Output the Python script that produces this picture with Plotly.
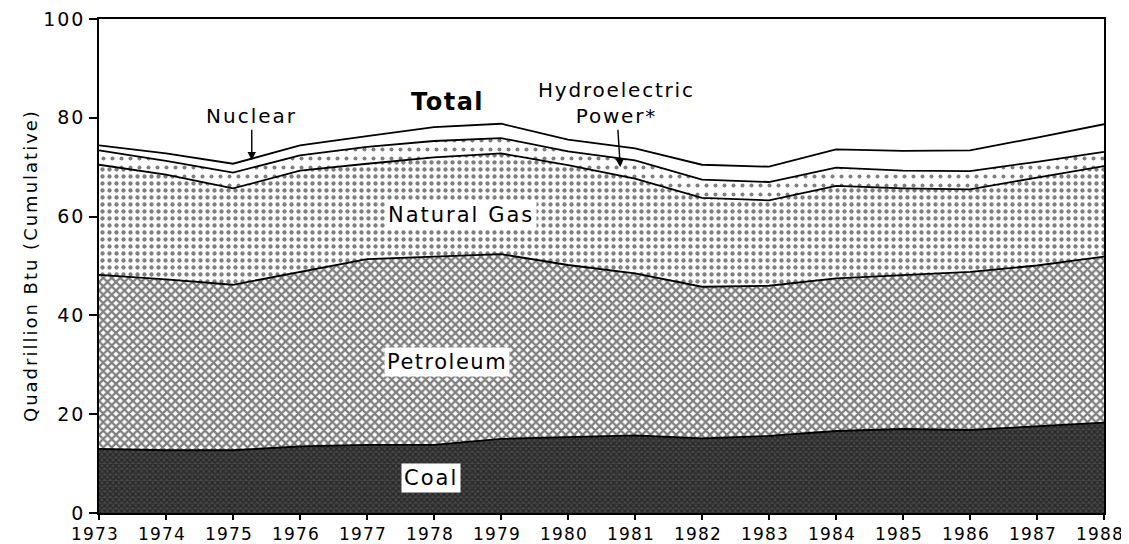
import plotly.graph_objects as go

years = list(range(1973, 1989))
coal = [13.0, 12.7, 12.7, 13.5, 13.8, 13.8, 15.0, 15.3, 15.7, 15.1, 15.6, 16.6, 17.0, 16.8, 17.5, 18.3]
petroleum = [35.2, 34.6, 33.5, 35.3, 37.6, 38.1, 37.4, 34.9, 32.8, 30.7, 30.4, 30.9, 31.2, 32.0, 32.6, 33.6]
natural_gas = [22.3, 21.2, 19.5, 20.5, 19.3, 20.1, 20.4, 20.2, 19.2, 18.0, 17.3, 18.7, 17.5, 16.7, 17.8, 18.3]
hydro = [2.9, 2.8, 3.2, 3.1, 3.4, 3.3, 3.1, 2.8, 3.7, 3.7, 3.7, 3.7, 3.6, 3.7, 3.2, 2.9]
nuclear = [1.0, 1.5, 1.8, 2.0, 2.2, 2.8, 2.9, 2.4, 2.4, 3.0, 3.1, 3.7, 4.0, 4.2, 4.9, 5.6]
y_ticks = [0, 20, 40, 60, 80, 100]

FONT = "DejaVu Sans"


def spaced(text, px):
    return f'<span style="letter-spacing:{px}px">{text}</span>'


series = [
    ("Coal", coal, dict(shape="x", bgcolor="#474747", fgcolor="#050505", size=4, solidity=0.55)),
    ("Petroleum", petroleum, dict(shape="x", bgcolor="white", fgcolor="black", size=6, solidity=0.62)),
    ("Natural Gas", natural_gas, dict(shape=".", bgcolor="white", fgcolor="black", size=7, solidity=0.3)),
    ("Hydroelectric Power", hydro, dict(shape=".", bgcolor="white", fgcolor="black", size=9, solidity=0.16)),
    ("Nuclear", nuclear, dict(shape="", bgcolor="white", fgcolor="white", size=8, solidity=0.0)),
]

fig = go.Figure()
for name, vals, pat in series:
    fig.add_trace(go.Scatter(
        x=years, y=vals, name=name, mode="lines", stackgroup="one",
        line=dict(color="black", width=1.8),
        fillcolor="white", fillpattern=pat,
        showlegend=False, hoverinfo="skip",
    ))

fig.update_layout(
    width=1129, height=536,
    margin=dict(l=91, r=33, t=10.5, b=31),
    paper_bgcolor="white", plot_bgcolor="white",
    font=dict(family=FONT, color="black", size=18),
    xaxis=dict(
        range=[1973, 1988], tickvals=years, ticktext=[spaced(str(y), 1.2) for y in years],
        showgrid=False, zeroline=False, showline=True, linecolor="black", linewidth=1.5,
        mirror=True, ticks="outside", ticklen=5, tickwidth=1.5, tickcolor="black",
        tickfont=dict(family=FONT, size=17), automargin=False, ticklabeloverflow="allow",
        ticklabelshift=-4,
    ),
    yaxis=dict(
        range=[0, 100], tickvals=y_ticks, ticktext=[spaced(str(v), 2) for v in y_ticks],
        showgrid=False, zeroline=False, showline=True, linecolor="black", linewidth=1.5,
        mirror=True, ticks="outside", ticklen=8, tickwidth=1.5, tickcolor="black",
        tickfont=dict(family=FONT, size=19), automargin=False, ticklabeloverflow="allow",
    ),
)

# y-axis title
fig.add_annotation(xref="paper", yref="paper", x=0, y=0.5, xshift=-69,
                   text=spaced("Quadrillion Btu (Cumulative)", 2), textangle=-90,
                   showarrow=False, xanchor="center", yanchor="middle",
                   font=dict(family=FONT, size=18, color="black"))

boxed = dict(bgcolor="white", borderpad=2, font=dict(family=FONT, size=21, color="black"))
fig.add_annotation(x=1978.2, y=83.1, text=spaced("<b>Total</b>", 1.5), showarrow=False,
                   font=dict(family=FONT, size=24, color="black"))
fig.add_annotation(x=1978.4, y=60.3, text=spaced("Natural Gas", 2), showarrow=False, **boxed)
fig.add_annotation(x=1978.2, y=30.6, text=spaced("Petroleum", 1.5), showarrow=False, **boxed)
fig.add_annotation(x=1977.95, y=7.0, text=spaced("Coal", 2), showarrow=False, **boxed)

fig.add_annotation(x=1975.28, y=71.4, text=spaced("Nuclear", 2), showarrow=True, ax=0, ay=-44,
                   arrowhead=2, arrowsize=1.2, arrowwidth=1.4, arrowcolor="black",
                   font=dict(family=FONT, size=20, color="black"))
fig.add_annotation(x=1980.78, y=70.0,
                   text=spaced("Hydroelectric", 1.8) + "<br>" + spaced("Power*", 1.8),
                   showarrow=True, ax=-4, ay=-64, arrowhead=2, arrowsize=1.2, arrowwidth=1.4,
                   arrowcolor="black", font=dict(family=FONT, size=20, color="black"))

fig.write_html("out.html")
